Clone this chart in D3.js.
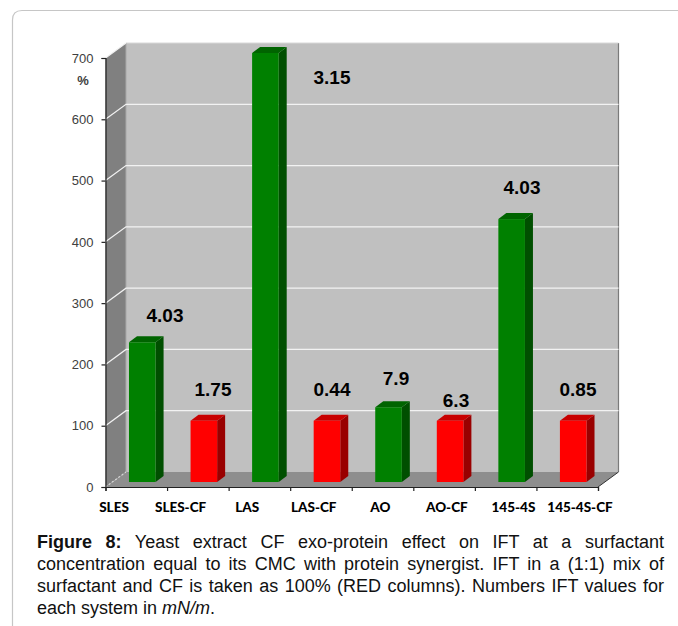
<!DOCTYPE html>
<html><head><meta charset="utf-8">
<script src="https://cdn.jsdelivr.net/npm/d3@7"></script>
<style>html,body{margin:0;padding:0;background:#fff}svg{display:block}</style>
</head><body><svg id="c" width="678" height="626"></svg>
<script>
// ---- data
const categories = ["SLES","SLES-CF","LAS","LAS-CF","AO","AO-CF","145-4S","145-4S-CF"];
const percentValues = [228,100,700,100,122,100,429,100];
const iftLabels = ["4.03","1.75","3.15","0.44","7.9","6.3","4.03","0.85"];
const yTicks = [0,100,200,300,400,500,600,700];
const captionLines = [
  [["Figure 8:","b"],[" Yeast extract CF exo-protein effect on IFT at a surfactant",""]],
  [["concentration equal to its CMC with protein synergist. IFT in a (1:1) mix of",""]],
  [["surfactant and CF is taken as 100% (RED columns). Numbers IFT values for",""]],
  [["each system in ",""],["mN/m","i"],[".",""]]
];
// ---- layout
const L = 105.5, R = 598, Y0 = 487, Y700 = 58;
const wallDx = 20.5, wallDy = -15, barDx = 6, barDy = -5, depthX = 8, depthY = -6;
// where each free-floating IFT label sits (centre x, baseline y)
const iftLabelX = [165,213,332,332,396,456,522,578];
const iftLabelY = [322,396,84,396,385,407,194,396];

const svg = d3.select("#c");
const y = d3.scaleLinear().domain([0,700]).range([Y0,Y700]);
const xBar = d3.scaleBand().domain(categories).range([L+barDx,R+barDx]).paddingInner(0.568).paddingOuter(0.284);
const xLabel = d3.scalePoint().domain(categories).range([114,580]);
const xTick = d3.scaleLinear().domain([0,8]).range([L,R]);
const poly = pts => pts.map(p=>p.join(",")).join(" ");

// page frame
svg.append("path").attr("d","M12.5,626V20Q12.5,10.5 22,10.5H678").attr("fill","none").attr("stroke","#c6c6c6").attr("stroke-width",1.2);

// walls
const yTop = y(700), yBot = y(0);
svg.append("polygon").attr("points",poly([[L+wallDx,yTop+wallDy],[R+wallDx,yTop+wallDy],[R+wallDx,yBot+wallDy],[L+wallDx,yBot+wallDy]])).attr("fill","#c0c0c0");
svg.append("polygon").attr("points",poly([[L,yTop],[L+wallDx,yTop+wallDy],[L+wallDx,yBot+wallDy],[L,yBot]])).attr("fill","#808080");
svg.append("polygon").attr("points",poly([[L,yBot],[L+wallDx,yBot+wallDy],[R+wallDx,yBot+wallDy],[R,yBot]])).attr("fill","#8e8e8e");
svg.append("line").attr("x1",R+wallDx).attr("x2",R+wallDx).attr("y1",yTop+wallDy).attr("y2",yBot+wallDy).attr("stroke","#7a7a7a").attr("stroke-width",1.2);
svg.append("line").attr("x1",L+wallDx).attr("x2",R+wallDx).attr("y1",yTop+wallDy).attr("y2",yTop+wallDy).attr("stroke","#d8d8d8");
svg.append("line").attr("x1",R).attr("x2",R+wallDx).attr("y1",yBot).attr("y2",yBot+wallDy).attr("stroke","#333").attr("stroke-width",1);
svg.append("line").attr("x1",L+wallDx).attr("x2",L+wallDx).attr("y1",yTop+wallDy).attr("y2",yBot+wallDy).attr("stroke","#a8a8a8");

// gridlines
yTicks.forEach(t=>{
  const g = svg.append("path").attr("fill","none").attr("stroke", t===0?"#d8d8d8":"#f2f2f2").attr("stroke-width",1.2);
  if(t===0) g.attr("d",`M${L},${y(t)}L${L+wallDx},${y(t)+wallDy}`).attr("stroke-dasharray","2,2");
  else if(t===700) g.attr("d",`M${L},${y(t)}L${L+wallDx},${y(t)+wallDy}`);
  else g.attr("d",`M${L},${y(t)}L${L+wallDx},${y(t)+wallDy}H${R+wallDx}`);
});

// bars
const barY = v => y(v)+barDy;
const bars = svg.selectAll("g.bar").data(categories.map((c,i)=>({c,v:percentValues[i],red:i%2===1}))).join("g").attr("class","bar");
bars.append("polygon").attr("fill",d=>d.red?"#990000":"#004f00").attr("points",d=>{
  const a=xBar(d.c)+xBar.bandwidth();
  return poly([[a,barY(d.v)],[a+depthX,barY(d.v)+depthY],[a+depthX,barY(0)+depthY],[a,barY(0)]]);});
bars.append("polygon").attr("fill",d=>d.red?"#c80000":"#006400").attr("points",d=>{
  const a=xBar(d.c),b=a+xBar.bandwidth();
  return poly([[a,barY(d.v)],[a+depthX,barY(d.v)+depthY],[b+depthX,barY(d.v)+depthY],[b,barY(d.v)]]);});
bars.append("rect").attr("fill",d=>d.red?"#ff0000":"#008000")
  .attr("x",d=>xBar(d.c)).attr("width",xBar.bandwidth())
  .attr("y",d=>barY(d.v)).attr("height",d=>barY(0)-barY(d.v));

// axes
const yAxis = svg.append("g").attr("transform",`translate(${L},0)`)
  .call(d3.axisLeft(y).tickValues(yTicks).tickSize(4).tickPadding(8));
yAxis.selectAll("path,line").attr("stroke","#222").attr("stroke-width",1.2);
yAxis.selectAll("text").attr("font-family","Liberation Sans").attr("font-size",13).attr("fill","#404040");
const xAxis = svg.append("g").attr("transform",`translate(0,${Y0})`)
  .call(d3.axisBottom(xTick).tickValues(d3.range(0,9)).tickSize(4).tickFormat(""));
xAxis.selectAll("path,line").attr("stroke","#222").attr("stroke-width",1.2);

svg.append("text").attr("x",83).attr("y",85).attr("text-anchor","middle").attr("font-family","Liberation Sans").attr("font-weight","bold").attr("font-size",13).attr("fill","#404040").text("%");

// category labels
svg.selectAll("text.cat").data(categories).join("text").attr("class","cat")
  .attr("x",d=>xLabel(d)).attr("y",512).attr("text-anchor","middle")
  .attr("font-family","Lato").attr("font-weight","900").attr("font-size",13.5).attr("fill","#000").text(d=>d);

// IFT labels
svg.selectAll("text.ift").data(iftLabels).join("text").attr("class","ift")
  .attr("x",(d,i)=>iftLabelX[i]).attr("y",(d,i)=>iftLabelY[i]).attr("text-anchor","middle")
  .attr("font-family","Liberation Sans").attr("font-weight","bold").attr("font-size",19).attr("fill","#000").text(d=>d);

// caption, justified
const capX = 37, capR = 664, capBase = 548, capLead = 22;
captionLines.forEach((runs,i)=>{
  const t = svg.append("text").attr("x",capX).attr("y",capBase+i*capLead).attr("font-family","Liberation Sans").attr("font-size",18).attr("fill","#111").style("white-space","pre");
  runs.forEach(([s,st])=>{
    const sp=t.append("tspan").text(s);
    if(st==="b") sp.attr("font-weight","bold");
    if(st==="i") sp.attr("font-style","italic");
  });
  if(i<captionLines.length-1){
    const w=t.node().getComputedTextLength();
    const n=runs.map(r=>r[0]).join("").split(" ").length-1;
    t.attr("word-spacing",(capR-capX-w)/n);
  }
});
</script></body></html>
